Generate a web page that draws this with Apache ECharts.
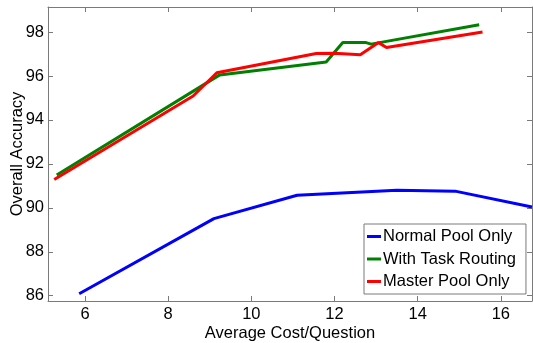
<!DOCTYPE html>
<html>
<head>
<meta charset="utf-8">
<style>
  html, body { margin: 0; padding: 0; background: #fff; }
  #chart { width: 533px; height: 343px; }
</style>
<script src="https://cdn.jsdelivr.net/npm/echarts@6/dist/echarts.min.js"></script>
</head>
<body>
<div id="chart"></div>
<script>
// Accuracy vs. cost for three worker-pool strategies
const seriesNames = ['Normal Pool Only', 'With Task Routing', 'Master Pool Only'];
const seriesColors = ['#0000ff', '#008000', '#ff0000'];

// [average cost per question, overall accuracy]
const normalPool = [[5.86, 86.09], [9.10, 89.51], [11.1, 90.57], [13.5, 90.80], [14.9, 90.76], [16.75, 90.04]];
const taskRouting = [[5.32, 91.49], [9.24, 96.05], [11.8, 96.64], [12.2, 97.52], [12.76, 97.52], [12.88, 97.45], [15.48, 98.33]];
const masterPool = [[5.26, 91.29], [8.6, 95.09], [9.17, 96.15], [11.56, 97.02], [12.0, 97.04], [12.62, 96.97], [13.06, 97.52], [13.25, 97.30], [15.56, 98.0]];

const xTicks = [6, 8, 10, 12, 14, 16];
const yTicks = [86, 88, 90, 92, 94, 96, 98];
const xRange = [5.11, 16.75];
const yRange = [85.76, 99.14];

const FONT = 'Liberation Sans, Arial, Helvetica, sans-serif';
const AXIS_GRAY = '#7a7a7a';

function makeAxis(kind, position, ticks, range, showLabels, name) {
  return {
    type: 'value',
    position: position,
    min: range[0],
    max: range[1],
    name: name || '',
    nameLocation: 'middle',
    nameGap: kind === 'x' ? 24 : 22,
    nameMoveOverlap: false,
    nameTextStyle: { fontFamily: FONT, fontSize: 16.5, color: '#000' },
    splitLine: { show: false },
    axisLine: { show: true, onZero: false, lineStyle: { color: AXIS_GRAY, width: 1 } },
    axisTick: { show: true, inside: true, length: 5, customValues: ticks, lineStyle: { color: AXIS_GRAY } },
    axisLabel: {
      show: showLabels,
      customValues: ticks,
      margin: kind === 'x' ? 5 : 4,
      fontFamily: FONT,
      fontSize: 16.5,
      color: '#000',
      showMinLabel: true,
      showMaxLabel: true
    }
  };
}

const chart = echarts.init(document.getElementById('chart'), null, { renderer: 'canvas' });

const datasets = [normalPool, taskRouting, masterPool];

chart.setOption({
  animation: false,
  backgroundColor: '#fff',
  grid: { left: 48, right: 1, top: 7, bottom: 42, containLabel: false, outerBoundsMode: 'none' },
  xAxis: [
    makeAxis('x', 'bottom', xTicks, xRange, true, 'Average Cost/Question'),
    makeAxis('x', 'top', xTicks, xRange, false)
  ],
  yAxis: [
    makeAxis('y', 'left', yTicks, yRange, true, 'Overall Accuracy'),
    makeAxis('y', 'right', yTicks, yRange, false)
  ],
  legend: {
    data: seriesNames,
    orient: 'vertical',
    left: 364,
    top: 224,
    icon: 'rect',
    itemWidth: 14,
    itemHeight: 3,
    itemGap: 5.5,
    padding: [4, 10, 4, 3],
    backgroundColor: '#fff',
    borderColor: AXIS_GRAY,
    borderWidth: 1,
    borderRadius: 0,
    textStyle: { fontFamily: FONT, fontSize: 16.5, color: '#000', padding: [0, 0, 0, -3] }
  },
  series: datasets.map((d, i) => ({
    name: seriesNames[i],
    type: 'line',
    data: d,
    xAxisIndex: 0,
    yAxisIndex: 0,
    symbol: 'none',
    smooth: false,
    clip: true,
    color: seriesColors[i],
    lineStyle: { color: seriesColors[i], width: 3 }
  }))
});
</script>
</body>
</html>
